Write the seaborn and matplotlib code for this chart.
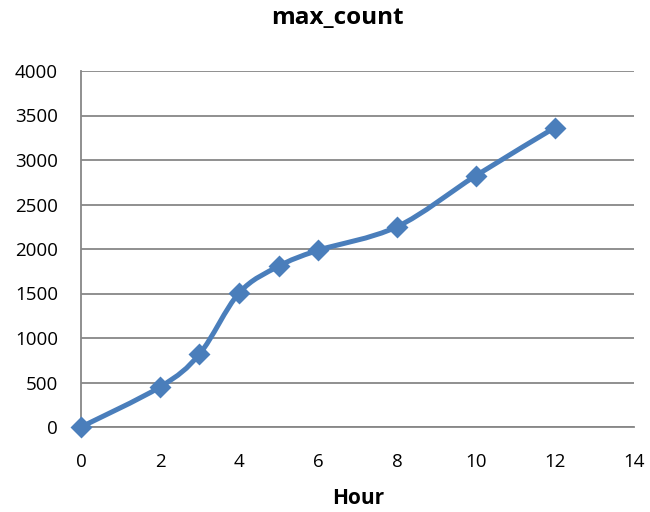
import numpy as np
import matplotlib
matplotlib.use("Agg")
import matplotlib.pyplot as plt
from matplotlib.path import Path
from matplotlib.patches import PathPatch
import seaborn as sns
import pandas as pd

hours = [0, 2, 3, 4, 5, 6, 8, 10, 12]
max_count = [0, 450, 820, 1505, 1805, 1985, 2250, 2825, 3365]
x_ticks = [0, 2, 4, 6, 8, 10, 12, 14]
y_ticks = [0, 500, 1000, 1500, 2000, 2500, 3000, 3500, 4000]

sns.set_theme(style="white")
plt.rcParams['font.family'] = ['Open Sans', 'DejaVu Sans']

df = pd.DataFrame({"Hour": hours, "max_count": max_count})

fig = plt.figure(figsize=(6.5, 5.12), dpi=100)
ax = fig.add_axes([81/650, 1-427/512, (634-81)/650, (427-71)/512])

line_color = "#4A7EBB"
grid_color = "#878787"

# smoothed line (Catmull-Rom Bezier, like spreadsheet smoothing)
xs = np.array(hours, float)
ys = np.array(max_count, float)
n = len(xs)
verts = [(xs[0], ys[0])]
codes = [Path.MOVETO]
for i in range(n - 1):
    p0 = np.array([xs[max(i-1, 0)], ys[max(i-1, 0)]])
    p1 = np.array([xs[i], ys[i]])
    p2 = np.array([xs[i+1], ys[i+1]])
    p3 = np.array([xs[min(i+2, n-1)], ys[min(i+2, n-1)]])
    c1 = p1 + (p2 - p0) / 6.0
    c2 = p2 - (p3 - p1) / 6.0
    verts += [tuple(c1), tuple(c2), tuple(p2)]
    codes += [Path.CURVE4] * 3
ax.add_patch(PathPatch(Path(verts, codes), facecolor="none", edgecolor=line_color,
                       lw=3.6, zorder=3, capstyle="round", joinstyle="round"))

sns.scatterplot(data=df, x="Hour", y="max_count", marker="D", s=125,
                color=line_color, edgecolor=line_color, linewidth=0, ax=ax, zorder=4,
                clip_on=False)

ax.set_xlim(0, 14)
ax.set_ylim(0, 4000)
ax.set_xticks(x_ticks)
ax.set_yticks(y_ticks)
ax.set_xticklabels([str(t) for t in x_ticks])
ax.set_yticklabels([str(t) for t in y_ticks])
ax.yaxis.grid(True, color=grid_color, lw=1.3)
ax.set_axisbelow(True)
for s in ["top", "right"]:
    ax.spines[s].set_visible(False)
for s in ["left", "bottom"]:
    ax.spines[s].set_color(grid_color)
    ax.spines[s].set_linewidth(1.3)
ax.tick_params(axis="both", which="major", direction="out", width=1.3,
               color=grid_color, labelsize=13.5, labelcolor="black")
ax.tick_params(axis="x", length=5, pad=13.5)
ax.tick_params(axis="y", length=4.5, pad=12)
ax.set_xlabel("")
ax.set_ylabel("")

fig.text(337/650, 1-18/512, "max_count", ha="center", va="center",
         fontsize=17.5, fontweight="bold", color="black")
fig.text(358/650, 1-499/512, "Hour", ha="center", va="center",
         fontsize=15, fontweight="bold", color="black")

fig.savefig("out.png", dpi=100, facecolor="white")
